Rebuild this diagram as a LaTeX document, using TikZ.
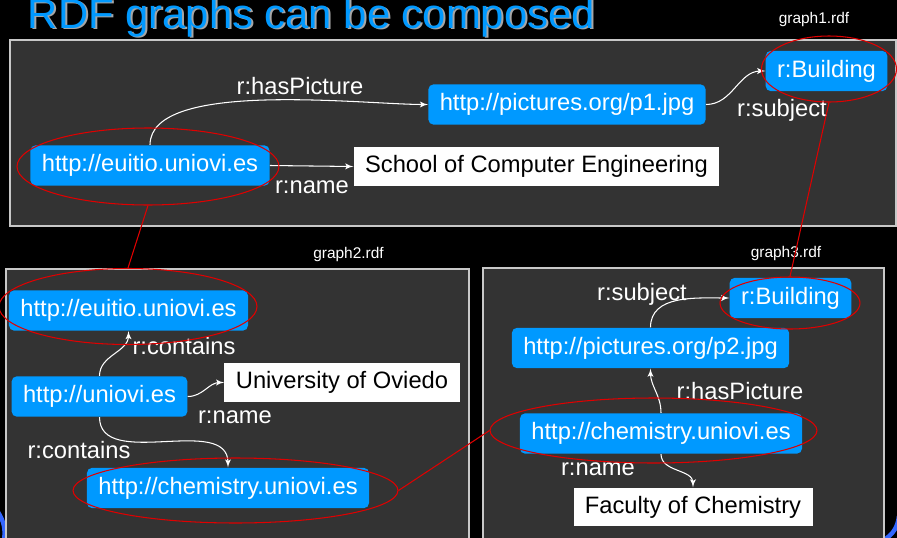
\documentclass[tikz,border=0pt]{standalone}
\usepackage{fontspec}
\setmainfont{Liberation Sans}
\usepackage{tikz}
\usetikzlibrary{arrows,shapes}
\definecolor{uriblue}{HTML}{0099FF}
\definecolor{panelgray}{HTML}{333333}
\definecolor{framegray}{HTML}{C8C8C8}
\definecolor{ringred}{HTML}{E00000}
\definecolor{swooshblue}{HTML}{3366FF}
\tikzstyle{uri}=[rectangle,rounded corners=3pt,fill=uriblue,text=white,font=\fontsize{13.5}{16}\selectfont,minimum height=23pt,inner xsep=6.5pt,inner ysep=0pt]
\tikzstyle{literal}=[rectangle,fill=white,text=black,font=\fontsize{13.5}{16}\selectfont,minimum height=22pt,inner xsep=6.5pt,inner ysep=0pt]
\tikzstyle{prop}=[text=white,font=\fontsize{13.5}{16}\selectfont,inner sep=0pt]
\tikzstyle{edge} = [draw,white,line width=0.6pt,->,>=latex']
\tikzstyle{ring}=[ellipse,draw=ringred,line width=0.6pt,inner sep=0pt]
\tikzstyle{link} = [draw=ringred,line width=0.6pt]
\tikzstyle{panel}=[fill=panelgray,draw=framegray,line width=0.7pt]
\tikzstyle{filename}=[text=white,font=\fontsize{8.8}{10}\selectfont,inner sep=0pt]

\begin{document}
\begin{tikzpicture}[x=0.02cm,y=-0.02cm]
        \useasboundingbox (0,0) rectangle (897,538);
        \clip (0,0) rectangle (897,538);
        \fill[black] (0,0) rectangle (897,538);
        %\draw[swooshblue] (0,0) grid[step=50] (897,538);
        \draw[swooshblue,line width=2.5pt] (-2,512) to[bend left=20] (4,540);
        \draw[swooshblue,line width=2.5pt] (884,540) to[bend right=25] (899,516);
        \node[anchor=base west,text=gray!70,font=\fontsize{23.8}{28}\selectfont,inner sep=0pt] (shadow) at (29.5,29.5) {RDF graphs can be composed};
        \node[anchor=base west,text=uriblue,font=\fontsize{23.8}{28}\selectfont,inner sep=0pt] (title) at (27.5,28) {RDF graphs can be composed};

        \draw[panel] (10,40) rectangle (896,226);
        \draw[panel] (6,269) rectangle (469,545);
        \draw[panel] (483,268) rectangle (884,545);
        \node[filename] (g1) at (814,19) {graph1.rdf};
        \node[filename] (g2) at (348.5,254) {graph2.rdf};
        \node[filename] (g3) at (786,253) {graph3.rdf};

        \node[uri] (euitio1) at (150,165.5) {http://euitio.uniovi.es};
        \node[uri] (pic1) at (567,104.5) {http://pictures.org/p1.jpg};
        \node[uri] (building1) at (826.5,71) {r:Building};
        \node[literal] (school) at (536.5,166.5) {School of Computer Engineering};
        \draw[edge] (euitio1.north) to[out=90,in=180,looseness=0.6] (pic1.west);
        \draw[edge] (euitio1.east) to (school.west);
        \draw[edge] (pic1.east) to[out=0,in=180] (building1.west);
        \node[prop] (hp1) at (300,86) {r:hasPicture};
        \node[prop] (nm1) at (312,187) {r:name};
        \node[prop] (sb1) at (782,110) {r:subject};

        \node[uri] (euitio2) at (128.5,310.5) {http://euitio.uniovi.es};
        \node[uri] (uniovi) at (99.5,396.5) {http://uniovi.es};
        \node[literal] (oviedo) at (342,382.5) {University of Oviedo};
        \node[uri] (chem2) at (228,488) {http://chemistry.uniovi.es};
        \draw[edge] (uniovi.north) to[out=90,in=-90] (euitio2.south);
        \draw[edge] (uniovi.east) to[out=0,in=180] (oviedo.west);
        \draw[edge] (uniovi.south) to[out=-90,in=90] (chem2.north);
        \node[prop] (ct1) at (184,346) {r:contains};
        \node[prop] (nm2) at (235,417) {r:name};
        \node[prop] (ct2) at (79,450) {r:contains};

        \node[uri] (building3) at (790.5,298) {r:Building};
        \node[uri] (pic2) at (650.5,348) {http://pictures.org/p2.jpg};
        \node[uri] (chem3) at (661,433.5) {http://chemistry.uniovi.es};
        \node[literal] (faculty) at (693,507) {Faculty of Chemistry};
        \draw[edge] (pic2.north) to[out=90,in=180] (building3.west);
        \draw[edge] (chem3.north) to[out=90,in=-90] (pic2.south);
        \draw[edge] (chem3.south) to[out=-90,in=90] (faculty.north);
        \node[prop] (sb3) at (642,294) {r:subject};
        \node[prop] (hp3) at (740,391) {r:hasPicture};
        \node[prop] (nm3) at (598,469) {r:name};

        \node[ring,minimum width=5.24cm,minimum height=1.54cm] (ring1) at (148,166.5) {};
        \node[ring,minimum width=2.7cm,minimum height=1.32cm] (ring2) at (829,69) {};
        \node[ring,minimum width=5.16cm,minimum height=1.52cm] (ring3) at (128,306.5) {};
        \node[ring,minimum width=6.5cm,minimum height=1.3cm] (ring4) at (235.5,490.5) {};
        \node[ring,minimum width=2.8cm,minimum height=1.04cm] (ring5) at (790,303) {};
        \node[ring,minimum width=6.54cm,minimum height=1.3cm] (ring6) at (653.5,430.5) {};
        \draw[link] (ring1.south) -- (ring3.north);
        \draw[link] (ring2.south) -- (ring5.north);
        \draw[link] (ring4.east) -- (ring6.west);
      \end{tikzpicture}
\end{document}
